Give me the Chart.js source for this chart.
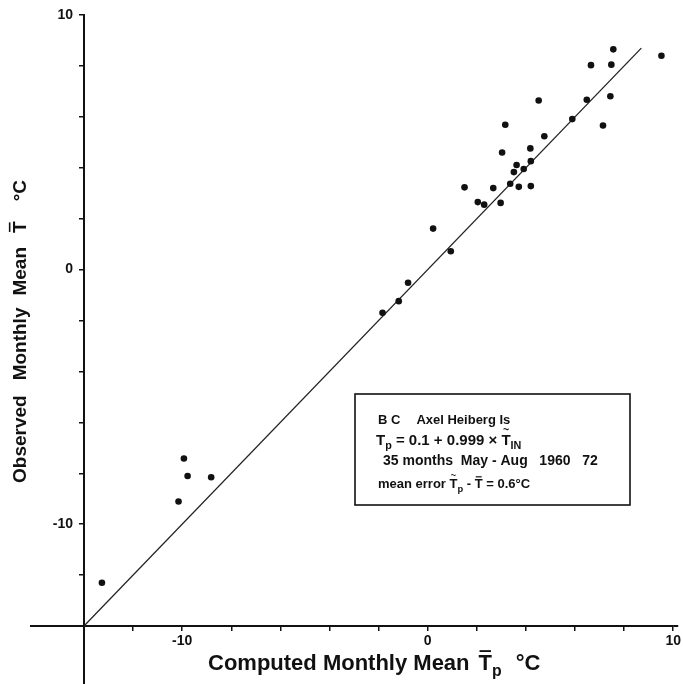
<!DOCTYPE html>
<html>
<head>
<meta charset="utf-8">
<script src="https://cdn.jsdelivr.net/npm/chart.js@4/dist/chart.umd.min.js"></script>
<style>
  html, body { margin: 0; padding: 0; background: #fff; }
  canvas { display: block; }
</style>
</head>
<body>
<canvas id="grafica" width="683" height="684"></canvas>
<script>
// computed monthly mean (x) vs observed monthly mean (y), deg C
const computedT = [7.56, 6.65, 7.48, 9.52, 4.52, 6.48, 7.44, 5.89, 7.14, 3.16,
  4.75, 3.03, 4.18, 4.20, 3.62, 3.51, 3.91, 3.36, 3.71, 4.20,
  1.50, 2.67, 2.04, 2.30, 2.97, 0.22, 0.94, -0.80, -1.18, -1.84,
  -9.93, -9.78, -8.82, -10.15, -13.27];
const observedT = [8.65, 8.03, 8.05, 8.40, 6.64, 6.67, 6.81, 5.91, 5.66, 5.69,
  5.24, 4.60, 4.76, 4.26, 4.11, 3.83, 3.95, 3.37, 3.25, 3.28,
  3.23, 3.20, 2.65, 2.55, 2.62, 1.61, 0.72, -0.52, -1.24, -1.70,
  -7.42, -8.11, -8.16, -9.11, -12.30];

// fitted line end points
const fitX = [-14, 8.7];
const fitY = [-14, 8.7];

const axisMin = -14;
const axisMax = 10;
const tickStep = 2;
const labelledTicks = [-10, 0, 10];

const FONT = '"Liberation Sans", Arial, sans-serif';

// draws a run of text pieces; sub = subscript, bar = overbar, tilde = tilde above
function drawParts(ctx, x, y, parts, size) {
  parts.forEach(p => {
    if (p.gap) { x += p.gap; return; }
    const s = p.sub ? size * 0.72 : size;
    const dy = p.sub ? size * 0.28 : 0;
    ctx.font = `bold ${s}px ${FONT}`;
    ctx.fillText(p.t, x, y + dy);
    const w = ctx.measureText(p.t).width;
    if (p.bar) {
      ctx.save();
      ctx.lineWidth = Math.max(1.2, size / 12);
      ctx.beginPath();
      ctx.moveTo(x + 1, y - size * 0.86);
      ctx.lineTo(x + w - 1, y - size * 0.86);
      ctx.stroke();
      ctx.restore();
    }
    if (p.tilde) {
      ctx.save();
      ctx.font = `bold ${size * 0.7}px ${FONT}`;
      ctx.textAlign = "center";
      ctx.fillText("~", x + w / 2, y - size * 0.78);
      ctx.restore();
    }
    x += w;
  });
  return x;
}

const legendLines = [
  { size: 13, dx: 23, dy: 30, parts: [{ t: "B C" }, { gap: 16 }, { t: "Axel Heiberg Is" }] },
  { size: 15, dx: 21, dy: 51, parts: [{ t: "T" }, { t: "p", sub: true }, { t: " = 0.1 + 0.999 × " }, { t: "T", tilde: true }, { t: "IN", sub: true }] },
  { size: 14, dx: 28, dy: 71, parts: [{ t: "35 months  May - Aug   1960   72" }] },
  { size: 13, dx: 23, dy: 94, parts: [{ t: "mean error " }, { t: "T", tilde: true }, { t: "p", sub: true }, { t: " - " }, { t: "T", bar: true }, { t: " = 0.6°C" }] }
];

const extras = {
  id: "extras",
  afterDraw(chart) {
    const ctx = chart.ctx;
    const a = chart.chartArea;
    ctx.save();
    ctx.strokeStyle = "#111";
    ctx.fillStyle = "#111";

    // axis lines run past the corner, as drawn on the original
    ctx.lineWidth = 2;
    ctx.beginPath();
    ctx.moveTo(30, a.bottom);
    ctx.lineTo(a.left, a.bottom);
    ctx.moveTo(a.right, a.bottom);
    ctx.lineTo(a.right + 5, a.bottom);
    ctx.moveTo(a.left, a.bottom);
    ctx.lineTo(a.left, chart.height);
    ctx.stroke();

    // legend box
    const bx = 355, by = 394, bw = 275, bh = 111;
    ctx.lineWidth = 1.6;
    ctx.strokeRect(bx, by, bw, bh);
    ctx.textBaseline = "alphabetic";
    ctx.textAlign = "left";
    legendLines.forEach(l => drawParts(ctx, bx + l.dx, by + l.dy, l.parts, l.size));

    // x axis title
    drawParts(ctx, 208, 670, [
      { t: "Computed Monthly Mean" }, { gap: 9 },
      { t: "T", bar: true }, { t: "p", sub: true }, { gap: 14 }, { t: "°C" }
    ], 22);

    // y axis title
    ctx.translate(26, 483);
    ctx.rotate(-Math.PI / 2);
    drawParts(ctx, 0, 0, [
      { t: "Observed" }, { gap: 15 }, { t: "Monthly" }, { gap: 12 }, { t: "Mean" },
      { gap: 14 }, { t: "T", bar: true }, { gap: 20 }, { t: "°C" }
    ], 19);
    ctx.restore();
  }
};

const axisCommon = {
  type: "linear",
  min: axisMin,
  max: axisMax,
  border: { display: true, color: "#111", width: 2 },
  grid: { drawOnChartArea: false, drawTicks: true, tickLength: 5, color: "#111", lineWidth: 1.5 },
  title: { display: false }
};

new Chart(document.getElementById("grafica"), {
  type: "scatter",
  data: {
    datasets: [
      {
        label: "Monthly means",
        data: computedT.map((v, i) => ({ x: v, y: observedT[i] })),
        pointRadius: 3.3,
        pointBackgroundColor: "#111",
        pointBorderWidth: 0
      },
      {
        type: "line",
        label: "Fit",
        data: fitX.map((v, i) => ({ x: v, y: fitY[i] })),
        borderColor: "#222",
        borderWidth: 1.3,
        pointRadius: 0,
        fill: false
      }
    ]
  },
  options: {
    responsive: false,
    animation: false,
    events: [],
    layout: { padding: { left: 0, top: 15, right: 9, bottom: 0 } },
    plugins: { legend: { display: false }, tooltip: { enabled: false } },
    scales: {
      x: {
        ...axisCommon,
        position: "bottom",
        afterFit: s => { s.height = 58; },
        ticks: {
          stepSize: tickStep,
          padding: 2,
          autoSkip: false,
          maxRotation: 0,
          color: "#111",
          font: { family: FONT, size: 14, weight: "bold" },
          callback: v => (labelledTicks.includes(v) ? String(v) : "")
        }
      },
      y: {
        ...axisCommon,
        position: "left",
        afterFit: s => { s.width = 84; },
        ticks: {
          stepSize: tickStep,
          padding: 6,
          autoSkip: false,
          color: "#111",
          font: { family: FONT, size: 14, weight: "bold" },
          callback: v => (labelledTicks.includes(v) ? String(v) : "")
        }
      }
    }
  },
  plugins: [extras]
});
</script>
</body>
</html>
